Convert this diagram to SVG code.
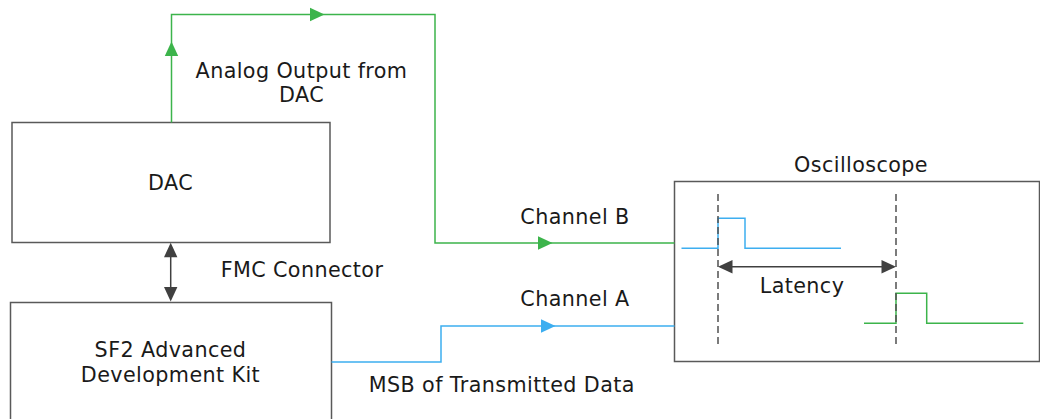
<svg xmlns="http://www.w3.org/2000/svg" width="1040" height="419" viewBox="0 0 1040 419">
  <style>
    .box { fill: #ffffff; stroke: #595959; stroke-width: 1.5; }
    .lbl { font-family: "DejaVu Sans", Verdana, sans-serif; font-size: 20.7px; letter-spacing: 0.4px; fill: #1a1a1a; text-anchor: middle; }
    .green { fill: none; stroke: #3cb44b; stroke-width: 1.5; }
    .blue { fill: none; stroke: #3daef0; stroke-width: 1.5; }
    .dark { fill: none; stroke: #404040; stroke-width: 1.5; }
    .dash { fill: none; stroke: #505050; stroke-width: 1.5; stroke-dasharray: 7 4; }
    .ah-green { fill: #3cb44b; }
    .ah-blue { fill: #3daef0; }
    .ah-dark { fill: #404040; }
  </style>
  <defs>
    <!-- arrowhead pointing along +x with its tip at the origin -->
    <path id="ah" d="M0,0 L-14.5,-6.7 L-14.5,6.7 Z"/>
  </defs>

  <!-- DAC board -->
  <g id="dac">
    <rect class="box" x="12" y="122.5" width="318" height="120"/>
    <text class="lbl" x="170.5" y="189.5">DAC</text>
  </g>

  <!-- SF2 development kit -->
  <g id="sf2-kit">
    <rect class="box" x="10.5" y="302.5" width="321" height="130"/>
    <text class="lbl" x="170.5" y="356.7">SF2 Advanced</text>
    <text class="lbl" x="170.5" y="381.7">Development Kit</text>
  </g>

  <!-- Oscilloscope with captured waveforms -->
  <g id="oscilloscope">
    <text class="lbl" x="861" y="172.3">Oscilloscope</text>
    <rect class="box" x="674.5" y="181.5" width="365" height="180"/>
    <!-- channel A trace (blue) -->
    <path class="blue" d="M681.5,248.3 H718 V218.3 H745 V248.3 H841"/>
    <!-- channel B trace (green) -->
    <path class="green" d="M864,323.3 H896 V293.3 H926.7 V323.3 H1023.3"/>
    <!-- timing markers -->
    <line class="dash" x1="718" y1="194" x2="718" y2="348"/>
    <line class="dash" x1="896" y1="194" x2="896" y2="348"/>
    <!-- latency span -->
    <line class="dark" x1="720" y1="266.7" x2="894" y2="266.7"/>
    <use href="#ah" class="ah-dark" transform="translate(718,266.7) rotate(180)"/>
    <use href="#ah" class="ah-dark" transform="translate(896,266.7)"/>
    <text class="lbl" x="802" y="292.7">Latency</text>
  </g>

  <!-- Connections between the boards and the scope -->
  <g id="connectors">
    <!-- DAC analog output to channel B -->
    <path class="green" d="M171.5,122.5 V14.5 H435 V243 H674.5"/>
    <use href="#ah" class="ah-green" transform="translate(171.5,41.5) rotate(-90)"/>
    <use href="#ah" class="ah-green" transform="translate(324.5,14.5)"/>
    <use href="#ah" class="ah-green" transform="translate(552.5,243)"/>
    <text class="lbl" x="301.5" y="77.5">Analog Output from</text>
    <text class="lbl" x="301.5" y="102">DAC</text>
    <text class="lbl" x="575" y="224.3">Channel B</text>

    <!-- FMC link between kit and DAC -->
    <line class="dark" x1="170.7" y1="250" x2="170.7" y2="294"/>
    <use href="#ah" class="ah-dark" transform="translate(170.7,242.7) rotate(-90)"/>
    <use href="#ah" class="ah-dark" transform="translate(170.7,301.5) rotate(90)"/>
    <text class="lbl" x="302" y="276.7">FMC Connector</text>

    <!-- transmitted data MSB to channel A -->
    <path class="blue" d="M331.5,362 H441 V326 H674.5"/>
    <use href="#ah" class="ah-blue" transform="translate(555.5,326)"/>
    <text class="lbl" x="575" y="306">Channel A</text>
    <text class="lbl" x="501.8" y="391.7">MSB of Transmitted Data</text>
  </g>
</svg>
